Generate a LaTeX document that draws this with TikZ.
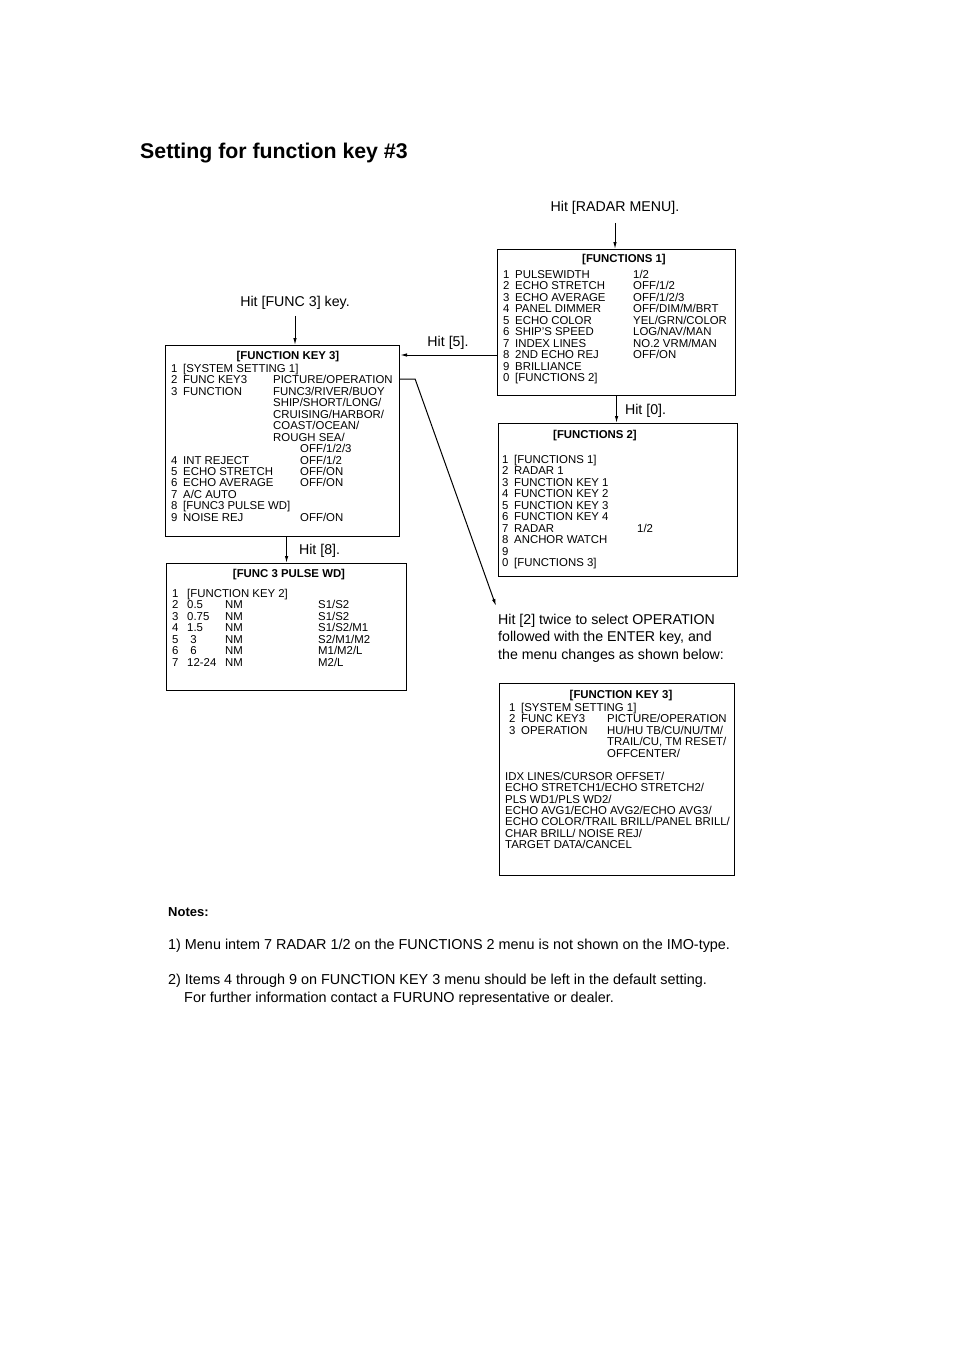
\documentclass[tikz,border=0pt]{standalone}
\usepackage{fontspec}
\setmainfont{Liberation Sans}
\usetikzlibrary{arrows.meta,positioning}

\newcommand{\nr}[1]{\makebox[12pt][l]{#1}}
\newcommand{\vc}[2]{\makebox[#1][l]{#2}}

\begin{document}
\begin{tikzpicture}[x=1pt,y=-1pt,
  menubox/.style={draw, line width=1.1pt, anchor=north west, inner sep=0pt},
  menutext/.style={anchor=north west, inner sep=0pt, align=left,
                   font=\fontsize{11.4}{11.45}\selectfont},
  menutitle/.style={inner sep=0pt, font=\bfseries\fontsize{11.4}{11.45}\selectfont},
  hit/.style={inner sep=0pt, align=left, font=\fontsize{14.2}{17.5}\selectfont},
  arrow/.style={-{Latex[length=7pt,width=3.5pt]}, line width=1pt}
]
\useasboundingbox (0,0) rectangle (954,1351);

%% Title
\node[anchor=west, inner sep=0pt, font=\bfseries\fontsize{21.3}{24}\selectfont]
     (title) at (140,153) {Setting for function key \#3};

%% [FUNCTIONS 1]
\node[hit] (hitradar) at (615,208) {Hit [RADAR MENU].};
\node[menubox, minimum width=238pt, minimum height=146pt] (fn1) at (497,249) {};
\node[menutitle] (fn1title) at (624,260) {[FUNCTIONS 1]};
\node[menutext] (fn1text) at (503,270) {%
  \nr{1}\vc{118pt}{PULSEWIDTH}1/2\\
  \nr{2}\vc{118pt}{ECHO STRETCH}OFF/1/2\\
  \nr{3}\vc{118pt}{ECHO AVERAGE}OFF/1/2/3\\
  \nr{4}\vc{118pt}{PANEL DIMMER}OFF/DIM/M/BRT\\
  \nr{5}\vc{118pt}{ECHO COLOR}YEL/GRN/COLOR\\
  \nr{6}\vc{118pt}{SHIP'S SPEED}LOG/NAV/MAN\\
  \nr{7}\vc{118pt}{INDEX LINES}NO.2 VRM/MAN\\
  \nr{8}\vc{118pt}{2ND ECHO REJ}OFF/ON\\
  \nr{9}BRILLIANCE\\
  \nr{0}[FUNCTIONS 2]};
\draw[arrow, shorten <=8pt] (hitradar.south) -- (hitradar.south |- fn1.north);

%% [FUNCTIONS 2]
\node[menubox, minimum width=239pt, minimum height=153pt] (fn2) at (498,423) {};
\node[menutitle] (fn2title) at (595,436) {[FUNCTIONS 2]};
\node[menutext] (fn2text) at (502,455) {%
  \nr{1}[FUNCTIONS 1]\\
  \nr{2}RADAR 1\\
  \nr{3}FUNCTION KEY 1\\
  \nr{4}FUNCTION KEY 2\\
  \nr{5}FUNCTION KEY 3\\
  \nr{6}FUNCTION KEY 4\\
  \nr{7}\vc{123pt}{RADAR}1/2\\
  \nr{8}ANCHOR WATCH\\
  \nr{9}\\
  \nr{0}[FUNCTIONS 3]};
\draw[arrow] (fn1.south) -- (fn1.south |- fn2.north)
  node[hit, midway, anchor=west, xshift=8pt, yshift=-1pt] (hit0) {Hit [0].};

%% [FUNCTION KEY 3]
\node[hit] (hitfunc) at (295,303) {Hit [FUNC 3] key.};
\node[menubox, minimum width=234pt, minimum height=191pt] (fk3) at (165,345) {};
\node[menutitle] (fk3title) at (288,357) {[FUNCTION KEY 3]};
\node[menutext] (fk3text) at (171,364) {%
  \nr{1}[SYSTEM SETTING 1]\\
  \nr{2}\vc{90pt}{FUNC KEY3}PICTURE/OPERATION\\
  \nr{3}\vc{90pt}{FUNCTION}FUNC3/RIVER/BUOY\\
  \nr{}\vc{90pt}{}SHIP/SHORT/LONG/\\
  \nr{}\vc{90pt}{}CRUISING/HARBOR/\\
  \nr{}\vc{90pt}{}COAST/OCEAN/\\
  \nr{}\vc{90pt}{}ROUGH SEA/\\
  \nr{}\vc{117pt}{}OFF/1/2/3\\
  \nr{4}\vc{117pt}{INT REJECT}OFF/1/2\\
  \nr{5}\vc{117pt}{ECHO STRETCH}OFF/ON\\
  \nr{6}\vc{117pt}{ECHO AVERAGE}OFF/ON\\
  \nr{7}A/C AUTO\\
  \nr{8}[FUNC3 PULSE WD]\\
  \nr{9}\vc{117pt}{NOISE REJ}OFF/ON};
\draw[arrow, shorten <=6pt] (hitfunc.south) -- (hitfunc.south |- fk3.north);

%% Hit [5] from FUNCTIONS 1 back to FUNCTION KEY 3
\coordinate (h5) at (497,355);
\draw[arrow] (h5) -- (h5 -| fk3.east);
\node[hit] (hit5) at (448,343) {Hit [5].};

%% [FUNC 3 PULSE WD]
\node[menubox, minimum width=240pt, minimum height=127pt] (pw) at (166,563) {};
\node[menutitle] (pwtitle) at (289,575) {[FUNC 3 PULSE WD]};
\node[menutext] (pwtext) at (172,589) {%
  \vc{15pt}{1}[FUNCTION KEY 2]\\
  \vc{15pt}{2}\vc{38pt}{0.5}\vc{93pt}{NM}S1/S2\\
  \vc{15pt}{3}\vc{38pt}{0.75}\vc{93pt}{NM}S1/S2\\
  \vc{15pt}{4}\vc{38pt}{1.5}\vc{93pt}{NM}S1/S2/M1\\
  \vc{15pt}{5}\vc{38pt}{\ 3}\vc{93pt}{NM}S2/M1/M2\\
  \vc{15pt}{6}\vc{38pt}{\ 6}\vc{93pt}{NM}M1/M2/L\\
  \vc{15pt}{7}\vc{38pt}{12-24}\vc{93pt}{NM}M2/L};
\draw[arrow] (pw.north |- fk3.south) -- (pw.north)
  node[hit, midway, anchor=west, xshift=12pt, yshift=-1pt] (hit8) {Hit [8].};

%% Hit [2] twice
\node[hit, anchor=north west] (twice) at (498,614)
  {Hit [2] twice to select OPERATION\\
   followed with the ENTER key, and\\
   the menu changes as shown below:};
\coordinate (optip) at (496,606);
\draw[arrow] (fk3.east |- 0,379) -- ++(15,0) -- (optip);

%% [FUNCTION KEY 3] after change
\node[menubox, minimum width=235pt, minimum height=192pt] (fk3b) at (499,683) {};
\node[menutitle] (fk3btitle) at (621,696) {[FUNCTION KEY 3]};
\node[menutext] (fk3btext) at (509,703) {%
  \nr{1}[SYSTEM SETTING 1]\\
  \nr{2}\vc{86pt}{FUNC KEY3}PICTURE/OPERATION\\
  \nr{3}\vc{86pt}{OPERATION}HU/HU TB/CU/NU/TM/\\
  \nr{}\vc{86pt}{}TRAIL/CU, TM RESET/\\
  \nr{}\vc{86pt}{}OFFCENTER/\\
  \mbox{}\\
  \hspace*{-4pt}IDX LINES/CURSOR OFFSET/\\
  \hspace*{-4pt}ECHO STRETCH1/ECHO STRETCH2/\\
  \hspace*{-4pt}PLS WD1/PLS WD2/\\
  \hspace*{-4pt}ECHO AVG1/ECHO AVG2/ECHO AVG3/\\
  \hspace*{-4pt}ECHO COLOR/TRAIL BRILL/PANEL BRILL/\\
  \hspace*{-4pt}CHAR BRILL/ NOISE REJ/\\
  \hspace*{-4pt}TARGET DATA/CANCEL};

%% Notes
\node[anchor=west, inner sep=0pt, font=\bfseries\fontsize{13}{15}\selectfont]
     (notes) at (168,912) {Notes:};
\node[hit, anchor=west, font=\fontsize{14.4}{17.5}\selectfont] (note1) at (168,946)
  {1) Menu intem 7 RADAR 1/2 on the FUNCTIONS 2 menu is not shown on the IMO-type.};
\node[hit, anchor=north west, font=\fontsize{14.4}{17.5}\selectfont] (note2) at (168,974)
  {2) Items 4 through 9 on FUNCTION KEY 3 menu should be left in the default setting.\\
   \hspace*{16pt}For further information contact a FURUNO representative or dealer.};

\end{tikzpicture}
\end{document}
